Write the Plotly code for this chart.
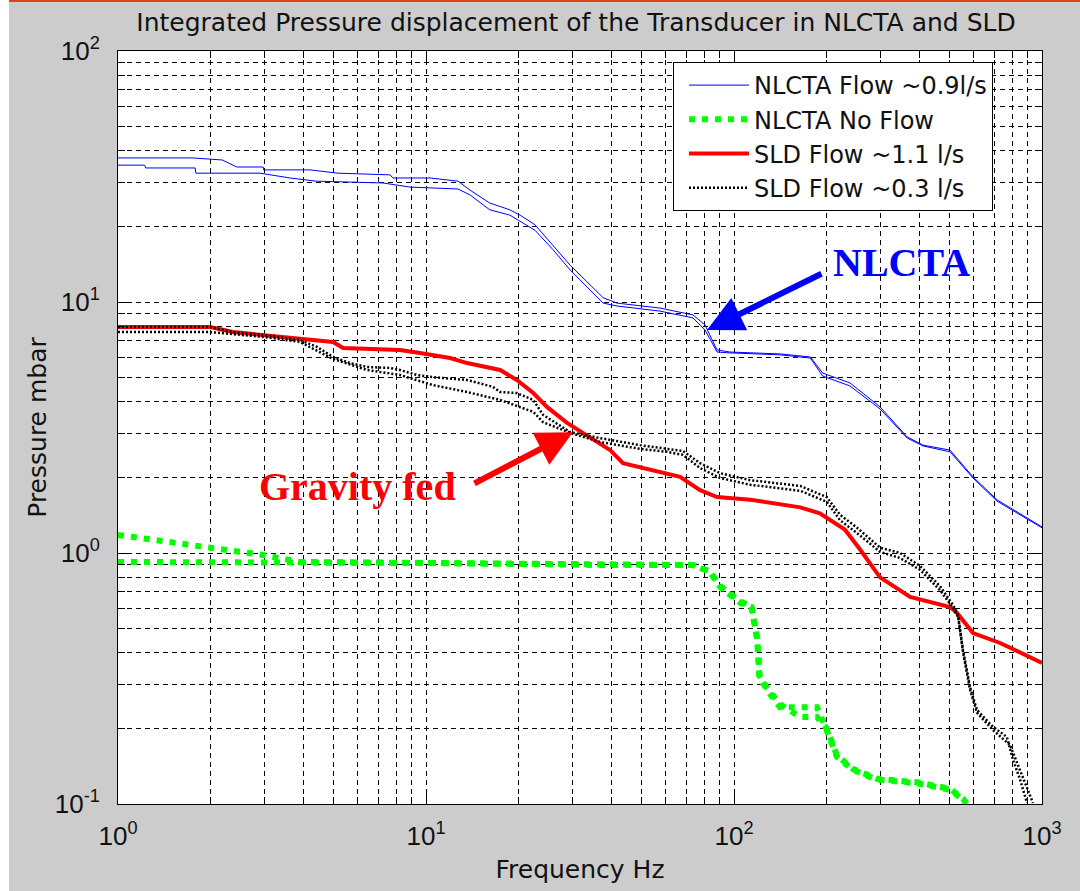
import numpy as np
import plotly.graph_objects as go

# ---------------- data ----------------
blue_a_f = [1, 1.74, 2.18, 2.43, 2.96, 2.97, 4.2, 5.18, 7.64, 7.81, 10.3, 12.7, 13.9, 16.1, 18.7, 20.2, 22.6, 25.8, 29.4, 37.6,
            41.7, 57.5, 73.6, 80.5, 88.1, 97, 141, 177, 194, 238, 298, 365, 411, 503, 597, 714, 1000]
blue_a_p = [37.5, 37.5, 36.8, 34.5, 34.5, 33.6, 33.6, 32.6, 32.1, 31.2, 31.2, 30.3, 27.9, 24.8, 23.3, 22.2, 20.3, 16.9, 14.0, 10.4,
            9.9, 9.46, 8.88, 8.1, 6.44, 6.32, 6.21, 6.04, 5.21, 4.76, 3.82, 2.90, 2.69, 2.57, 2.01, 1.63, 1.27]

blue_b_f = [1, 1.22, 1.23, 1.78, 1.79, 2.89, 3.62, 4.39, 7.25, 8.87, 12.7, 13.9, 16.1, 18.7, 22.6, 25.8, 29.4, 37.6, 41.7, 57.5,
            73.6, 80.5, 88.1, 97, 141, 177, 194, 238, 298, 365, 411, 503, 597, 714, 1000]
blue_b_p = [35.1, 35.1, 34.2, 34.2, 32.6, 32.6, 31.2, 30.3, 29.8, 28.7, 28.2, 26.7, 23.3, 22.2, 19.3, 16.2, 13.4, 9.9, 9.64, 9.2,
            8.64, 7.74, 6.32, 6.27, 6.16, 5.98, 5.07, 4.63, 3.75, 2.87, 2.67, 2.53, 1.99, 1.61, 1.26]

green_a_f = [1, 1.44, 1.99, 2.68, 2.96, 3.90, 10.5, 36.7, 73.6, 83.6, 90.1, 105, 114, 119, 121, 128, 141, 164, 186, 200,
             216, 243, 291, 393, 503, 554, 570]
green_a_p = [1.18, 1.106, 1.047, 1.0, 0.982, 0.921, 0.912, 0.896, 0.896, 0.840, 0.732, 0.632, 0.609, 0.450, 0.321, 0.285, 0.243, 0.243, 0.243, 0.197,
             0.154, 0.137, 0.125, 0.121, 0.114, 0.104, 0.1]

green_b_f = [1, 2.96, 10.5, 36.7, 73.6, 83.6, 90.1, 105, 114, 119, 121, 128, 141, 164, 186, 200, 216, 243, 291, 393, 503, 554, 570]
green_b_p = [0.921, 0.921, 0.912, 0.896, 0.896, 0.845, 0.74, 0.64, 0.615, 0.455, 0.325, 0.29, 0.25, 0.222, 0.222, 0.20, 0.156, 0.138,
             0.126, 0.122, 0.115, 0.105, 0.1]

red_f = [1, 1.99, 2.36, 2.96, 3.90, 4.99, 5.38, 8.23, 9.56, 11.97, 13.6, 17.4, 19.7, 22.3, 24.7, 28.7, 32.3, 39.6, 43.6, 53.4,
         66.8, 77.6, 88.1, 113, 164, 190, 229, 257, 298, 373, 503, 530, 597, 731, 849, 1000]
red_p = [7.95, 7.95, 7.59, 7.39, 7.19, 6.93, 6.56, 6.44, 6.26, 5.98, 5.71, 5.36, 4.89, 4.34, 3.82, 3.30, 3.01, 2.57, 2.28, 2.14,
         2.01, 1.78, 1.67, 1.63, 1.52, 1.44, 1.24, 1.03, 0.80, 0.668, 0.609, 0.577, 0.480, 0.438, 0.400, 0.365]

black_a_f = [1, 1.99, 2.36, 2.96, 3.90, 4.43, 4.99, 5.67, 6.43, 7.64, 8.23, 9.35, 10.5, 13.6, 16.5, 17.4, 19.7, 22.3, 24.0, 29.4,
             36.7, 49.5, 60.6, 68.3, 77.6, 90.1, 113, 164, 200, 221, 251, 298, 346, 402, 466, 514, 534, 554, 584, 615,
             693, 769, 805, 849, 894]
black_a_p = [7.95, 7.95, 7.59, 7.39, 7.06, 6.62, 6.04, 5.71, 5.51, 5.46, 5.36, 5.12, 5.02, 4.89, 4.59, 4.38, 4.34, 4.07, 3.55, 3.03,
             2.87, 2.69, 2.60, 2.55, 2.28, 2.08, 1.95, 1.85, 1.67, 1.42, 1.26, 1.05, 1.00, 0.888, 0.739, 0.621, 0.566, 0.411, 0.292, 0.237,
             0.203, 0.185, 0.150, 0.125, 0.101]

black_b_f = [1, 1.99, 2.96, 3.90, 4.99, 6.43, 8.23, 10.5, 13.6, 17.4, 22.3, 24.0, 29.4, 36.7, 49.5, 60.6, 68.3, 77.6, 90.1, 113,
             164, 200, 221, 251, 298, 346, 402, 466, 514, 534, 554, 584, 615, 693, 787, 849, 935]
black_b_p = [7.59, 7.59, 7.26, 6.93, 5.93, 5.36, 5.12, 4.67, 4.38, 4.07, 3.65, 3.32, 3.01, 2.77, 2.60, 2.53, 2.46, 2.18, 1.99, 1.87,
             1.77, 1.60, 1.35, 1.20, 1.01, 0.955, 0.856, 0.712, 0.604, 0.556, 0.403, 0.285, 0.231, 0.197, 0.172, 0.137, 0.101]

series_names = ["NLCTA Flow ~0.9l/s", "NLCTA No Flow", "SLD Flow ~1.1 l/s", "SLD Flow ~0.3 l/s"]

x_tick_vals = [1, 10, 100, 1000]
x_tick_text = ["10<sup>0</sup>", "10<sup>1</sup>", "10<sup>2</sup>", "10<sup>3</sup>"]
y_tick_vals = [0.1, 1, 10, 100]
y_tick_text = ["10<sup>-1</sup>", "10<sup>0</sup>", "10<sup>1</sup>", "10<sup>2</sup>"]
x_minor_vals = [m * 10 ** k for k in range(0, 3) for m in range(2, 10)]
y_minor_vals = [m * 10 ** k for k in range(-1, 2) for m in range(2, 10)]

# arrow targets (data coords)
nlcta_arrow_tip = (81.7, 7.73)
gravity_arrow_tip = (30.0, 3.03)

# ---------------- figure ----------------
SANS = "Liberation Sans, Arial, Helvetica, sans-serif"
WIDE = "DejaVu Sans, Verdana, sans-serif"
SERIF = "Liberation Serif, Times New Roman, serif"

fig = go.Figure()


def add(f, p, name, color, width, dash, show):
    fig.add_trace(go.Scatter(x=f, y=p, mode="lines", name=name, legendgroup=name,
                             showlegend=show, line=dict(color=color, width=width, dash=dash)))


add(blue_a_f, blue_a_p, series_names[0], "#0000ff", 1, "solid", True)
add(blue_b_f, blue_b_p, series_names[0], "#0000ff", 1, "solid", False)
add(green_a_f, green_a_p, series_names[1], "#00ff00", 6, "6px,7px", True)
add(green_b_f, green_b_p, series_names[1], "#00ff00", 6, "6px,7px", False)
add(red_f, red_p, series_names[2], "#ff0000", 4, "solid", True)
add(black_a_f, black_a_p, series_names[3], "#000000", 2.5, "2px,2px", True)
add(black_b_f, black_b_p, series_names[3], "#000000", 2.5, "2px,2px", False)

GRIDDASH = "5px,4px"
axis_common = dict(
    type="log", showline=True, linecolor="black", linewidth=1, mirror="allticks",
    ticks="inside", ticklen=14, tickcolor="black", tickwidth=1,
    showgrid=True, gridcolor="black", gridwidth=1, griddash=GRIDDASH,
    zeroline=False, tickmode="array",
    tickfont=dict(family=SANS, size=26, color="#111111"),
)

fig.update_xaxes(**axis_common, range=[0, 3], tickvals=x_tick_vals, ticktext=x_tick_text,
                 ticklabelstandoff=9,
                 minor=dict(tickmode="array", tickvals=x_minor_vals, ticks="inside", ticklen=7,
                            tickcolor="black", showgrid=True, gridcolor="black", gridwidth=1, griddash=GRIDDASH),
                 title=dict(text="Frequency Hz", font=dict(family=WIDE, size=25, color="#111111"), standoff=10))
fig.update_yaxes(**axis_common, range=[-1, 2], tickvals=y_tick_vals, ticktext=y_tick_text,
                 ticklabelstandoff=12,
                 minor=dict(tickmode="array", tickvals=y_minor_vals, ticks="inside", ticklen=7,
                            tickcolor="black", showgrid=True, gridcolor="black", gridwidth=1, griddash=GRIDDASH),
                 title=dict(text="Pressure mbar", font=dict(family=WIDE, size=25, color="#111111"), standoff=0))

W, H = 1080, 891
L, R, T, B = 118, 38, 51, 87
pw, ph = W - L - R, H - T - B

fig.update_layout(
    width=W, height=H,
    margin=dict(l=L, r=R, t=T, b=B, pad=0),
    paper_bgcolor="#cccccc", plot_bgcolor="white",
    title=dict(text="Integrated Pressure displacement of the Transducer in NLCTA and SLD",
               font=dict(family=WIDE, size=25, color="#111111"),
               x=(576 - L) / pw, xref="paper", xanchor="center",
               y=1 - 22 / H, yref="container", yanchor="middle"),
    legend=dict(x=(673 - L) / pw, y=(804 - 62) / ph, xanchor="left", yanchor="top",
                bgcolor="white", bordercolor="black", borderwidth=1,
                font=dict(family=WIDE, size=24, color="#111111"),
                tracegroupgap=0, itemwidth=60, indentation=10),
    showlegend=True,
    shapes=[
        dict(type="rect", xref="paper", yref="paper", x0=-L / pw, x1=(9 - L) / pw,
             y0=-B / ph, y1=(H - B) / ph, fillcolor="white", line=dict(width=0), layer="below"),
        dict(type="rect", xref="paper", yref="paper", x0=(9 - L) / pw, x1=(W - L) / pw,
             y0=(H - B - 2) / ph, y1=(H - B) / ph, fillcolor="#dd4416", line=dict(width=0), layer="below"),
    ],
    annotations=[
        dict(x=np.log10(nlcta_arrow_tip[0]), y=np.log10(nlcta_arrow_tip[1]), xref="x", yref="y",
             ax=116, ay=-57, text="", showarrow=True, arrowhead=2, arrowsize=1.2, arrowwidth=6,
             arrowcolor="#0000ff", standoff=0),
        dict(x=np.log10(gravity_arrow_tip[0]), y=np.log10(gravity_arrow_tip[1]), xref="x", yref="y",
             ax=-100, ay=52, text="", showarrow=True, arrowhead=2, arrowsize=1.2, arrowwidth=6,
             arrowcolor="#ff0000", standoff=0),
        dict(x=(901 - L) / pw, y=(804 - 262) / ph, xref="paper", yref="paper", showarrow=False,
             text="<b>NLCTA</b>", font=dict(family=SERIF, size=40, color="#0000ff"),
             xanchor="center", yanchor="middle"),
        dict(x=(357 - L) / pw, y=(804 - 487) / ph, xref="paper", yref="paper", showarrow=False,
             text="<b>Gravity fed</b>", font=dict(family=SERIF, size=40, color="#ff0000"),
             xanchor="center", yanchor="middle"),
    ],
)

fig.write_html("out.html")
